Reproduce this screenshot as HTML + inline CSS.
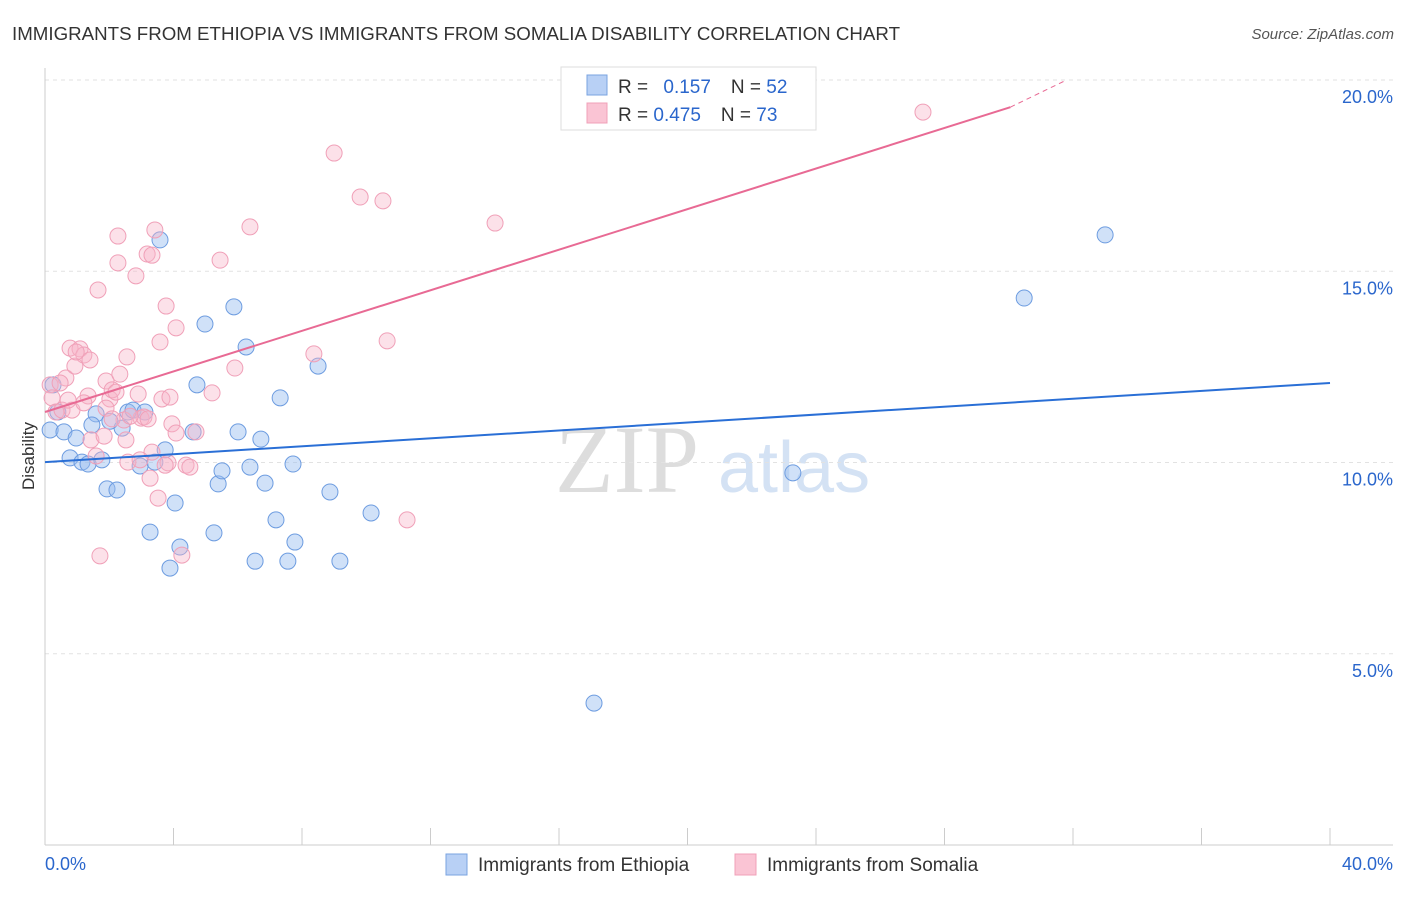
<!DOCTYPE html>
<html><head><meta charset="utf-8"><style>
body{margin:0;background:#fff;font-family:"Liberation Sans",sans-serif}
</style></head><body>
<svg id="c" width="1406" height="892" xmlns="http://www.w3.org/2000/svg" style="font-family:'Liberation Sans',sans-serif">
<text x="12" y="40" font-size="18" fill="#333" textLength="888" lengthAdjust="spacingAndGlyphs">IMMIGRANTS FROM ETHIOPIA VS IMMIGRANTS FROM SOMALIA DISABILITY CORRELATION CHART</text>
<text x="1394" y="39" font-size="15" fill="#555" text-anchor="end" font-style="italic">Source: ZipAtlas.com</text>
<text x="555" y="492" font-size="96" fill="#ddd" font-family="Liberation Serif">ZIP</text>
<text x="718" y="492" font-size="72" fill="#d4e2f4">atlas</text>
<text x="34" y="456" font-size="17" fill="#333" text-anchor="middle" transform="rotate(-90 34 456)">Disability</text>
<g id="grid"></g><g id="pts"></g><g id="lines"></g>
<g>
<rect x="561" y="67" width="255" height="63" fill="#fff" stroke="#ddd"/>
<rect x="587" y="75" width="20" height="20" fill="#b8d0f5" stroke="#7aa3e0"/>
<rect x="587" y="103" width="20" height="20" fill="#fac4d4" stroke="#f0a0b8"/>
<text x="618" y="93" font-size="19" fill="#333">R = <tspan fill="#2a66cc" dx="10">0.157</tspan><tspan fill="#333" dx="20">N = </tspan><tspan fill="#2a66cc">52</tspan></text>
<text x="618" y="121" font-size="19" fill="#333">R = <tspan fill="#2a66cc">0.475</tspan><tspan fill="#333" dx="20">N = </tspan><tspan fill="#2a66cc">73</tspan></text>
</g>
<g>
<rect x="446" y="854" width="21" height="21" fill="#b8d0f5" stroke="#7aa3e0"/>
<text x="478" y="871" font-size="19" fill="#333">Immigrants from Ethiopia</text>
<rect x="735" y="854" width="21" height="21" fill="#fac4d4" stroke="#f0a0b8"/>
<text x="767" y="871" font-size="19" fill="#333">Immigrants from Somalia</text>
</g>
<text x="45" y="870" font-size="18" fill="#2a66cc">0.0%</text>
<text x="1393" y="870" font-size="18" fill="#2a66cc" text-anchor="end">40.0%</text>
</svg>
<script>
const yTicks=[5,10,15,20];
const yTickLabels=["5.0%","10.0%","15.0%","20.0%"];
const ethX=[0.25,0.16,0.59,0.97,0.78,1.15,1.34,1.77,1.59,1.46,1.93,2.24,2.40,2.58,2.74,3.11,2.96,3.27,3.42,3.58,3.74,3.89,4.05,4.20,4.61,4.73,4.98,5.26,5.39,5.51,5.88,6.01,6.26,6.38,6.54,6.72,6.85,7.19,7.32,7.56,7.72,7.78,8.50,8.87,9.18,10.15,17.09,23.28,30.48,33.00,2.02,0.40];
const ethY=[12.03,10.85,10.80,10.64,10.12,10.01,9.96,10.07,11.27,10.98,9.31,9.28,10.90,11.32,11.37,11.32,9.91,8.18,10.01,15.82,10.33,7.24,8.94,7.79,10.80,12.03,13.62,8.16,9.44,9.78,14.07,10.80,13.02,9.88,7.42,10.61,9.46,8.50,11.69,7.42,9.96,7.92,12.52,9.23,7.42,8.68,3.71,9.73,14.30,15.95,11.08,11.32];
const somX=[0.16,0.22,0.34,0.53,0.65,0.78,0.84,0.93,1.09,1.21,1.34,1.43,1.59,1.71,1.84,1.90,2.02,2.09,2.21,2.27,2.27,2.33,2.46,2.55,2.58,2.83,2.90,2.99,3.08,3.18,3.27,3.33,3.42,3.33,3.52,3.58,3.64,3.77,3.83,3.89,3.95,4.08,4.08,4.26,4.39,4.51,4.70,5.20,5.45,5.91,6.38,8.37,9.00,9.81,10.52,10.65,11.27,14.01,27.33,1.65,0.47,0.72,1.21,2.96,1.90,2.65,0.97,1.40,3.74,2.09,3.21,2.52];
const somY=[12.03,11.69,11.32,11.37,12.21,12.99,11.37,12.52,12.97,12.81,11.74,10.59,10.17,7.56,10.69,12.13,11.66,11.90,11.84,15.92,15.22,12.31,11.11,12.76,10.01,14.88,11.79,11.16,11.19,15.45,9.59,10.27,16.08,15.42,9.07,13.15,11.66,14.09,9.99,11.71,11.01,13.52,10.77,7.58,9.93,9.88,10.80,11.82,15.29,12.47,16.16,12.84,18.09,16.94,16.84,13.18,8.50,16.26,19.16,14.51,12.08,11.63,11.56,10.07,11.42,11.21,12.89,12.68,9.93,11.14,11.14,10.59];
const ethTrend=[10.01,12.08];
const somTrend=[11.32,19.29,20.0];
const somTrendX=[0,30.05,31.8];
const NS="http://www.w3.org/2000/svg";
const X=v=>45+v/40*1285, Y=v=>845-v*38.25;
function mk(t,a,p){const e=document.createElementNS(NS,t);for(const k in a)e.setAttribute(k,a[k]);p.appendChild(e);return e;}
const g=document.getElementById('grid');
yTicks.forEach((t,i)=>{const l=mk('line',{x1:45,x2:1393,y1:Y(t),y2:Y(t),stroke:'#e2e2e2','stroke-dasharray':'4 4'},g);


const tx=mk('text',{x:1393,y:Y(t)+23,'font-size':18,fill:'#2a66cc','text-anchor':'end'},g);tx.textContent=yTickLabels[i];

});
mk('line',{x1:45,x2:45,y1:68,y2:845,stroke:'#ccc'},g);
mk('line',{x1:45,x2:1393,y1:845,y2:845,stroke:'#ccc'},g);
for(let i=1;i<=10;i++){mk('line',{x1:X(i*4),x2:X(i*4),y1:828,y2:845,stroke:'#ccc'},g);}
const p=document.getElementById('pts');
ethX.forEach((x,i)=>{const c=mk('circle',{cx:X(x),cy:Y(ethY[i]),r:8,fill:'rgba(150,188,240,0.45)',stroke:'#6d9ce0','stroke-width':1},p);

});
somX.forEach((x,i)=>{const c=mk('circle',{cx:X(x),cy:Y(somY[i]),r:8,fill:'rgba(248,180,200,0.4)',stroke:'#f0a0b8','stroke-width':1},p);

});
const L=document.getElementById('lines');
const b=mk('line',{x1:X(0),y1:Y(ethTrend[0]),x2:X(40),y2:Y(ethTrend[1]),stroke:'#2a6fd6','stroke-width':2},L);


const s=mk('line',{x1:X(somTrendX[0]),y1:Y(somTrend[0]),x2:X(somTrendX[1]),y2:Y(somTrend[1]),stroke:'#e86a94','stroke-width':2},L);


const sd=mk('line',{x1:X(somTrendX[1]),y1:Y(somTrend[1]),x2:X(somTrendX[2]),y2:Y(somTrend[2]),stroke:'#e86a94','stroke-width':1,'stroke-dasharray':'5 4'},L);


</script>
</body></html>
